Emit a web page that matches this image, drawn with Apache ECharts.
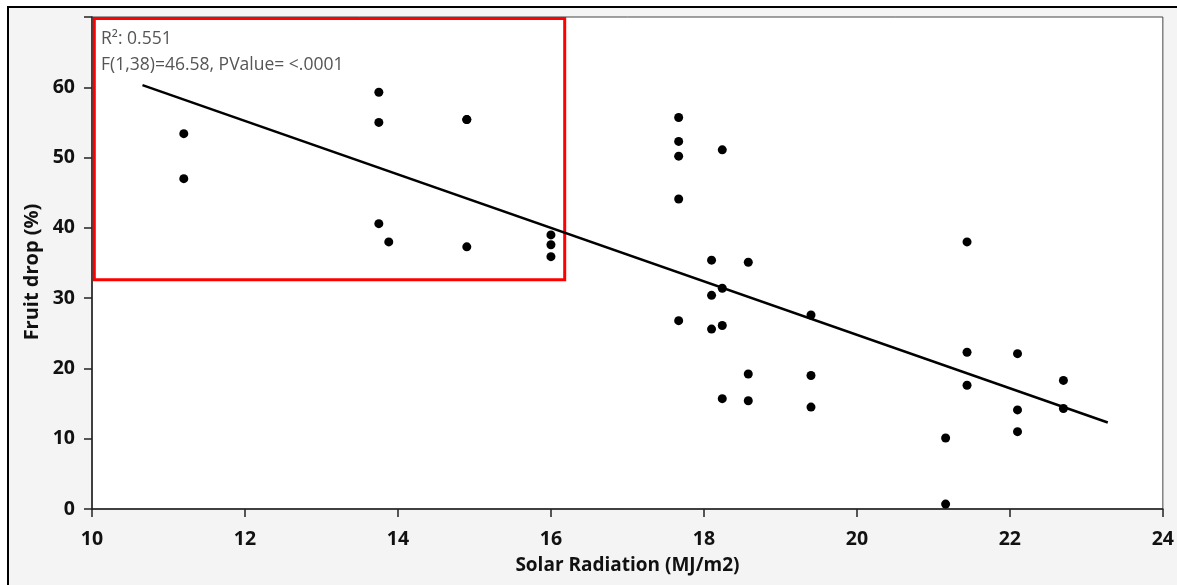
<!DOCTYPE html>
<html>
<head>
<meta charset="utf-8">
<script src="https://cdn.jsdelivr.net/npm/echarts@6/dist/echarts.min.js"></script>
<style>
  html, body { margin: 0; padding: 0; background: #fff; }
  #chart { width: 1177px; height: 585px; }
</style>
</head>
<body>
<div id="chart"></div>
<script>
// solar radiation (MJ/m2) vs fruit drop (%)
var radiation = [
  11.2, 11.2,
  13.75, 13.75, 13.75, 13.88,
  14.9, 14.9, 14.9,
  16.0, 16.0, 16.0,
  17.67, 17.67, 17.67, 17.67, 17.67,
  18.1, 18.1, 18.1,
  18.24, 18.24, 18.24, 18.24,
  18.58, 18.58, 18.58,
  19.4, 19.4, 19.4,
  21.16, 21.16,
  21.44, 21.44, 21.44,
  22.1, 22.1, 22.1,
  22.7, 22.7
];
var fruitDrop = [
  53.4, 47.0,
  59.3, 55.0, 40.6, 38.0,
  55.4, 55.4, 37.3,
  39.0, 37.6, 35.9,
  55.7, 52.3, 50.2, 44.1, 26.8,
  35.4, 30.4, 25.6,
  51.1, 31.4, 26.1, 15.7,
  35.1, 19.2, 15.4,
  27.6, 19.0, 14.5,
  10.1, 0.7,
  38.0, 22.3, 17.6,
  22.1, 14.1, 11.0,
  18.3, 14.3
];
// fitted line end points
var fitX = [10.66, 23.28];
var fitY = [60.3, 12.3];
// highlighted box (data coords)
var boxX = [10.03, 16.18];
var boxY = [32.6, 69.8];

var xTicks = { min: 10, max: 24, interval: 2 };
var yTicks = { min: 0, max: 70, interval: 10 };

var points = radiation.map(function (x, i) { return [x, fruitDrop[i]]; });
var fitLine = fitX.map(function (x, i) { return [x, fitY[i]]; });

var chart = echarts.init(document.getElementById('chart'));

function boldFont(size) {
  return {
    color: '#111',
    fontFamily: 'Open Sans',
    fontWeight: 'bold',
    fontSize: size
  };
}

chart.setOption({
  backgroundColor: '#ffffff',
  animation: false,
  graphic: [
    {
      type: 'rect',
      z: -10,
      shape: { x: 8, y: 7, width: 1200, height: 600 },
      style: { fill: '#f4f4f4', stroke: '#000', lineWidth: 2 }
    },
    {
      type: 'text',
      left: 101,
      top: 30,
      z: 10,
      style: {
        text: 'R²: 0.551',
        fill: '#555',
        font: '17.5px "Open Sans"'
      }
    },
    {
      type: 'text',
      left: 101,
      top: 56,
      z: 10,
      style: {
        text: 'F(1,38)=46.58, PValue= <.0001',
        fill: '#555',
        font: '17.5px "Open Sans"'
      }
    }
  ],
  grid: {
    left: 92,
    top: 17,
    right: 9,
    bottom: 76,
    show: true,
    backgroundColor: '#ffffff',
    borderColor: '#444',
    borderWidth: 1
  },
  xAxis: {
    type: 'value',
    min: xTicks.min,
    max: xTicks.max,
    interval: xTicks.interval,
    name: 'Solar Radiation (MJ/m2)',
    nameLocation: 'middle',
    nameGap: 47,
    nameTextStyle: boldFont(19),
    axisLine: { show: true, lineStyle: { color: '#222', width: 1.5 } },
    axisTick: { show: true, length: 8, lineStyle: { color: '#222', width: 1.5 } },
    axisLabel: Object.assign({ margin: 20 }, boldFont(19.5)),
    splitLine: { show: false }
  },
  yAxis: {
    type: 'value',
    min: yTicks.min,
    max: yTicks.max,
    interval: yTicks.interval,
    name: 'Fruit drop (%)',
    nameLocation: 'middle',
    nameGap: 47,
    nameTextStyle: Object.assign({ padding: [0, 18, 0, 0] }, boldFont(20)),
    axisLine: { show: true, lineStyle: { color: '#222', width: 1.5 } },
    axisTick: { show: true, length: 8, lineStyle: { color: '#222', width: 1.5 } },
    axisLabel: Object.assign({
      margin: 17,
      formatter: function (v) { return v >= 70 ? '' : String(v); }
    }, boldFont(19.5)),
    splitLine: { show: false }
  },
  series: [
    {
      type: 'line',
      data: fitLine,
      showSymbol: false,
      lineStyle: { color: '#000', width: 2.5 },
      z: 3
    },
    {
      type: 'scatter',
      data: points,
      symbolSize: 9,
      itemStyle: { color: '#000', opacity: 1 },
      z: 4,
      markArea: {
        silent: true,
        itemStyle: {
          color: 'rgba(0,0,0,0)',
          borderColor: '#ff0000',
          borderWidth: 3
        },
        data: [[
          { coord: [boxX[0], boxY[1]] },
          { coord: [boxX[1], boxY[0]] }
        ]]
      }
    }
  ]
});
</script>
</body>
</html>
